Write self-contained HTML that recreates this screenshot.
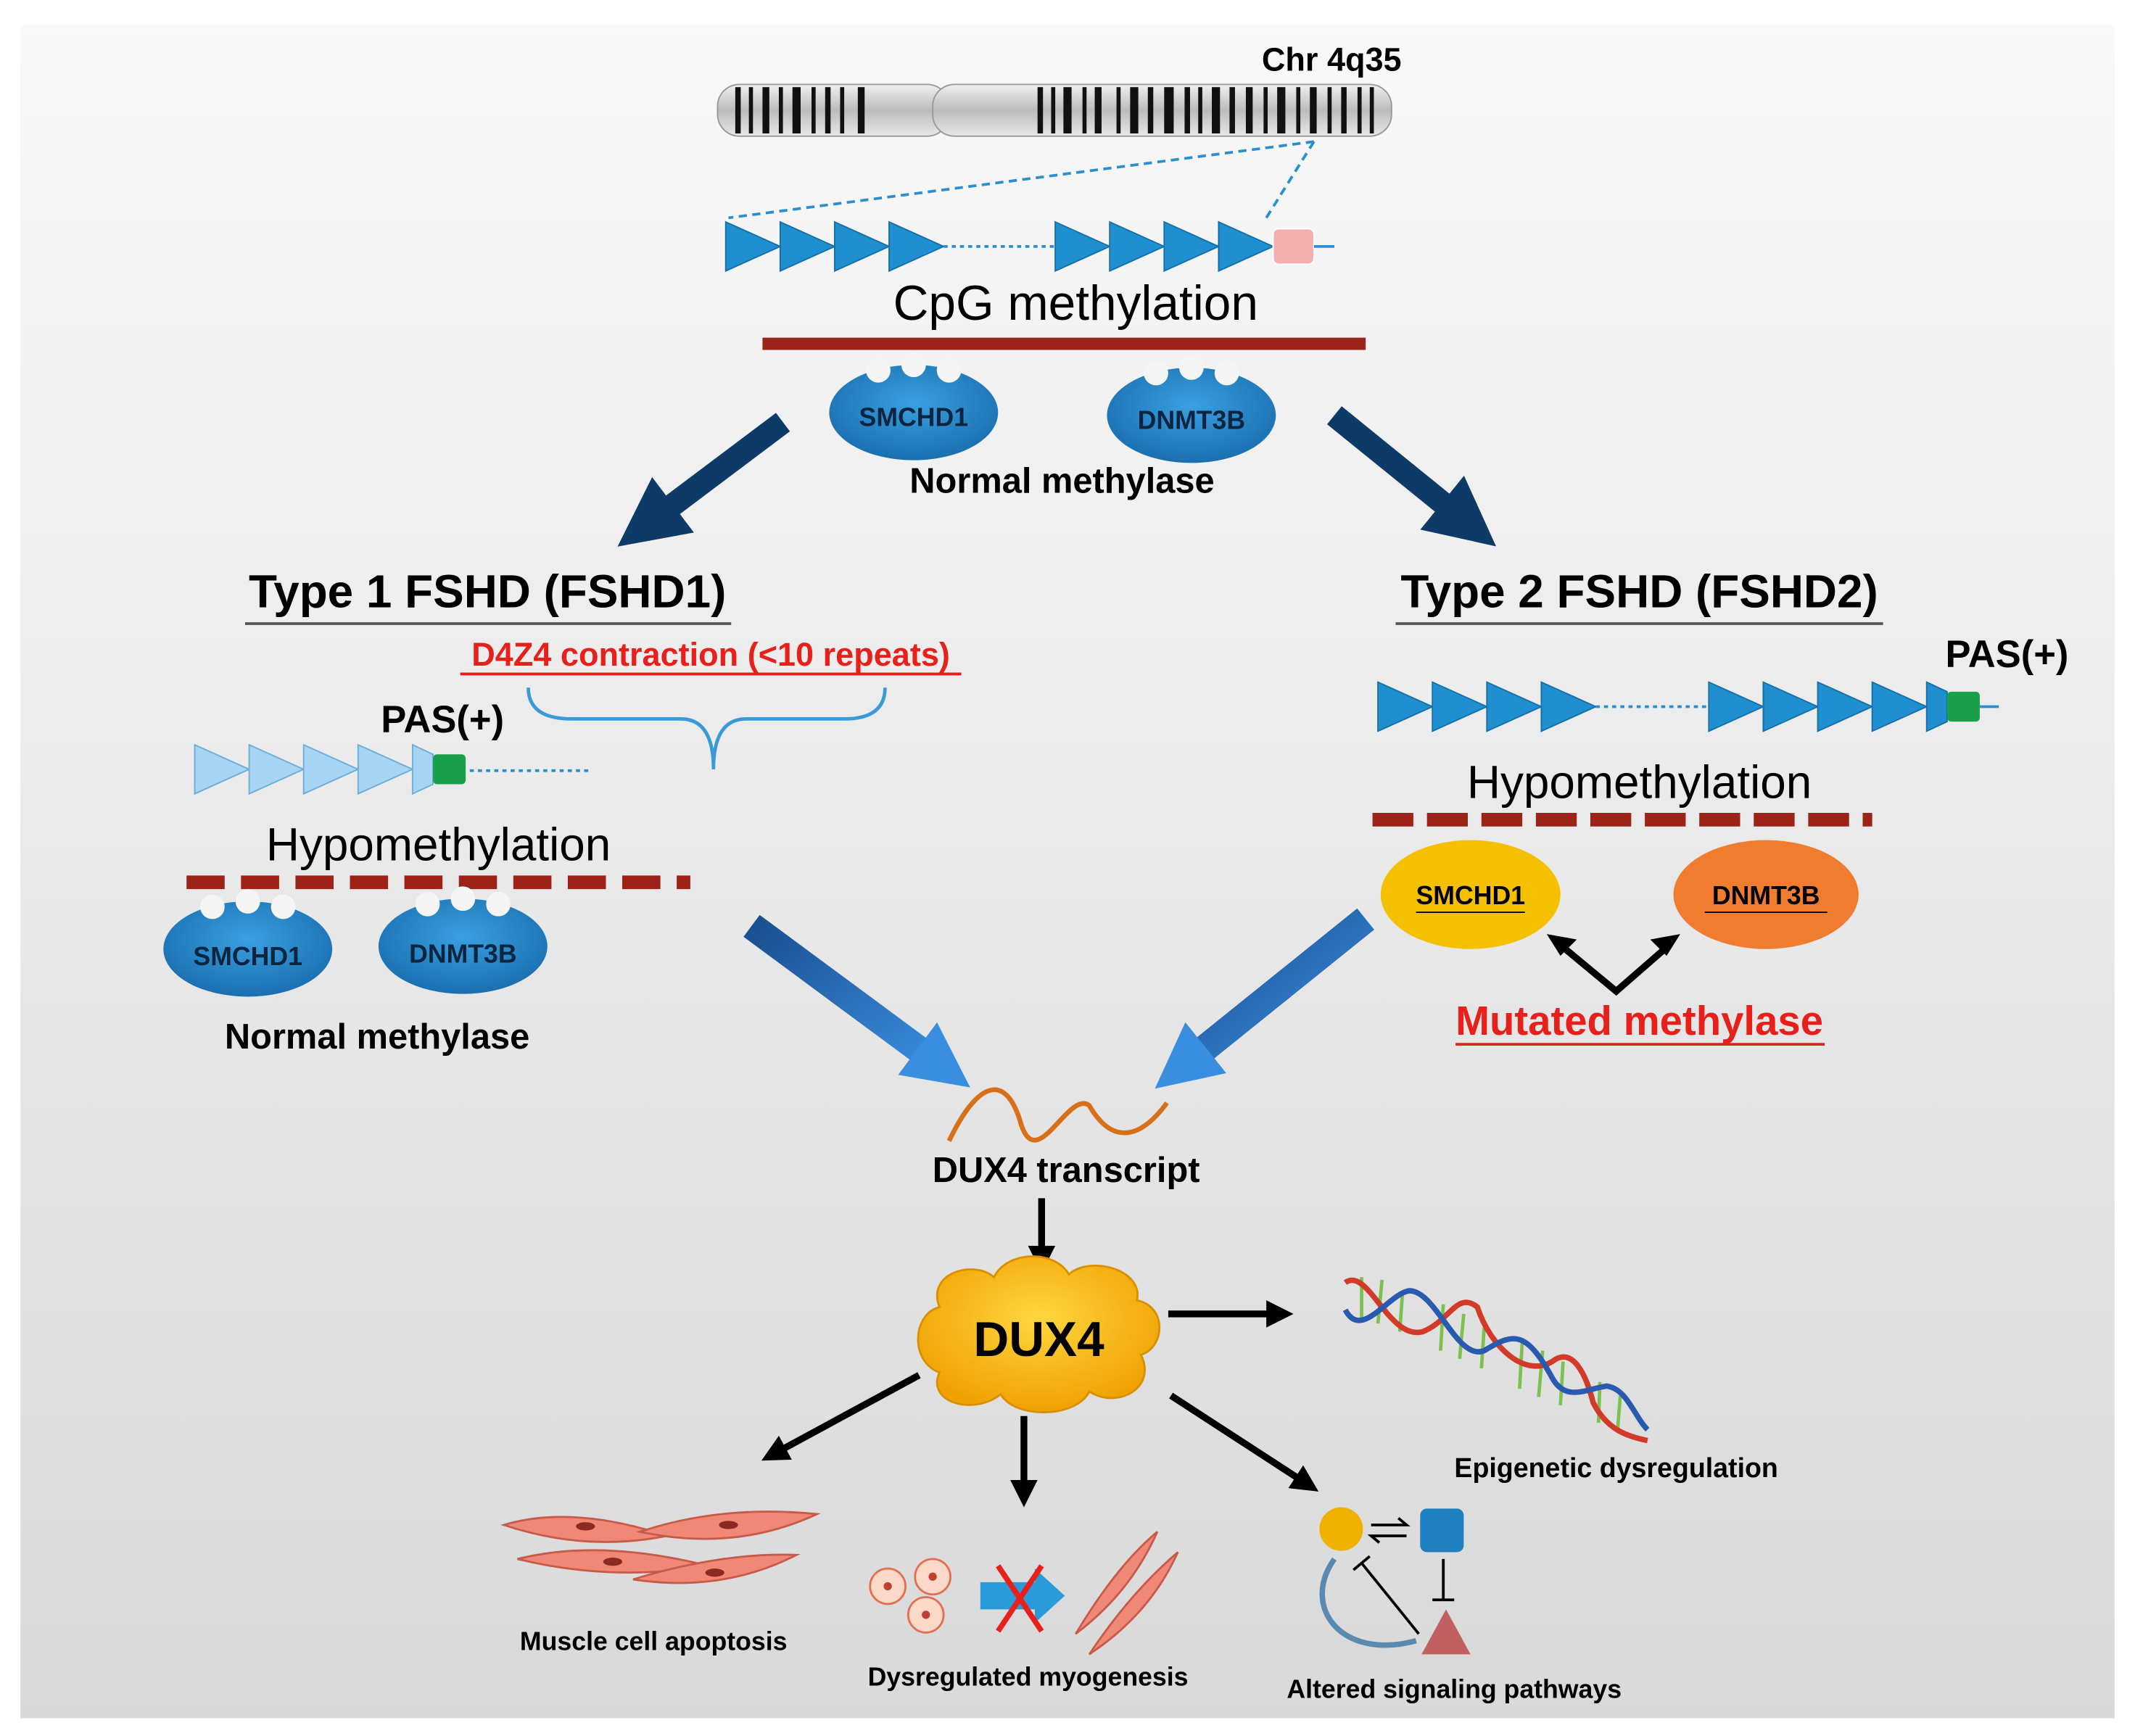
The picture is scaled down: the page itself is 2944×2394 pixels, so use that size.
<!DOCTYPE html>
<html><head><meta charset="utf-8"><style>
html,body{margin:0;padding:0;background:#fff}
svg{display:block}
text{font-family:"Liberation Sans","DejaVu Sans",sans-serif}
</style></head><body>
<svg width="2944" height="2394" viewBox="0 0 1568 1275" preserveAspectRatio="none" xmlns="http://www.w3.org/2000/svg">
<defs>
<linearGradient id="bg" x1="0" y1="0" x2="0" y2="1"><stop offset="0" stop-color="#f9f9f9"/><stop offset="1" stop-color="#d9d9d9"/></linearGradient>
<linearGradient id="chr" x1="0" y1="0" x2="0" y2="1"><stop offset="0" stop-color="#f0f0f0"/><stop offset=".5" stop-color="#bbb"/><stop offset="1" stop-color="#e8e8e8"/></linearGradient>
<radialGradient id="blueE" cx=".5" cy=".4" r=".6"><stop offset="0" stop-color="#3aa0e0"/><stop offset="1" stop-color="#1a6fb0"/></radialGradient>
<radialGradient id="cloud" cx=".5" cy=".4" r=".6"><stop offset="0" stop-color="#ffd640"/><stop offset="1" stop-color="#f0a000"/></radialGradient>
<linearGradient id="barrow" x1="0" y1="0" x2="1" y2="1"><stop offset="0" stop-color="#1a4f90"/><stop offset="1" stop-color="#3a8ee0"/></linearGradient>
<marker id="ah" markerWidth="4" markerHeight="4" refX="2" refY="2" orient="auto" markerUnits="strokeWidth"><path d="M0,0 L4,2 L0,4 z" fill="#000"/></marker>
<marker id="ahn" markerWidth="3" markerHeight="3" refX="1.2" refY="1.5" orient="auto" markerUnits="strokeWidth"><path d="M0,0 L3,1.5 L0,3 z" fill="#0d3a66"/></marker>
<marker id="ahb" markerWidth="2.4" markerHeight="2.4" refX="1" refY="1.2" orient="auto" markerUnits="strokeWidth"><path d="M0,0 L2.4,1.2 L0,2.4 z" fill="#3a8ee0"/></marker>
</defs>
<rect width="1568" height="1275" fill="#fff"/>
<rect x="15" y="18" width="1538" height="1244" fill="url(#bg)"/>

<!-- chromosome -->
<rect x="527" y="62" width="170" height="38" rx="16" fill="url(#chr)" stroke="#999"/>
<rect x="685" y="62" width="337" height="38" rx="16" fill="url(#chr)" stroke="#999"/>
<g fill="#111">
<rect x="540" y="64" width="4" height="34"/><rect x="550" y="64" width="3" height="34"/><rect x="560" y="64" width="5" height="34"/><rect x="572" y="64" width="3" height="34"/><rect x="582" y="64" width="6" height="34"/><rect x="596" y="64" width="3" height="34"/><rect x="606" y="64" width="4" height="34"/><rect x="617" y="64" width="3" height="34"/><rect x="630" y="64" width="5" height="34"/>
<rect x="762" y="64" width="4" height="34"/><rect x="772" y="64" width="3" height="34"/><rect x="781" y="64" width="6" height="34"/><rect x="795" y="64" width="3" height="34"/><rect x="804" y="64" width="5" height="34"/><rect x="820" y="64" width="3" height="34"/><rect x="830" y="64" width="6" height="34"/><rect x="843" y="64" width="4" height="34"/><rect x="855" y="64" width="7" height="34"/><rect x="870" y="64" width="4" height="34"/><rect x="880" y="64" width="3" height="34"/><rect x="890" y="64" width="6" height="34"/><rect x="903" y="64" width="4" height="34"/><rect x="915" y="64" width="5" height="34"/><rect x="928" y="64" width="3" height="34"/><rect x="938" y="64" width="6" height="34"/><rect x="952" y="64" width="3" height="34"/><rect x="962" y="64" width="5" height="34"/><rect x="975" y="64" width="3" height="34"/><rect x="985" y="64" width="4" height="34"/><rect x="997" y="64" width="3" height="34"/><rect x="1006" y="64" width="3" height="34"/>
</g>
<text x="978" y="52" font-size="24" font-weight="bold" text-anchor="middle">Chr 4q35</text>
<g stroke="#2a8fd0" stroke-width="2" stroke-dasharray="6,4" fill="none">
<line x1="965" y1="104" x2="535" y2="160"/><line x1="965" y1="104" x2="930" y2="160"/></g>

<g fill="#1f8fd0" stroke="#156fa8" stroke-width="1">
<polygon points="533,163 573,181 533,199"/><polygon points="573,163 613,181 573,199"/><polygon points="613,163 653,181 613,199"/><polygon points="653,163 693,181 653,199"/>
<polygon points="775,163 815,181 775,199"/><polygon points="815,163 855,181 815,199"/><polygon points="855,163 895,181 855,199"/><polygon points="895,163 935,181 895,199"/>
</g>
<line x1="693" y1="181" x2="775" y2="181" stroke="#2a8fd0" stroke-width="2" stroke-dasharray="3,3"/>
<rect x="935" y="168" width="30" height="26" rx="4" fill="#f4b0b0" stroke="#fff"/>
<line x1="965" y1="181" x2="980" y2="181" stroke="#2a8fd0" stroke-width="2"/>
<text x="790" y="235" font-size="36" text-anchor="middle">CpG methylation</text>
<rect x="560" y="248" width="443" height="9" fill="#9b2318"/>

<ellipse cx="671" cy="303" rx="62" ry="35" fill="url(#blueE)"/>
<circle cx="645" cy="272" r="9" fill="#f5f5f5"/><circle cx="671" cy="268" r="9" fill="#f5f5f5"/><circle cx="697" cy="272" r="9" fill="#f5f5f5"/>
<text x="671" y="313" font-size="19" font-weight="bold" text-anchor="middle" fill="#0a2540">SMCHD1</text>
<ellipse cx="875" cy="305" rx="62" ry="35" fill="url(#blueE)"/>
<circle cx="849" cy="274" r="9" fill="#f5f5f5"/><circle cx="875" cy="270" r="9" fill="#f5f5f5"/><circle cx="901" cy="274" r="9" fill="#f5f5f5"/>
<text x="875" y="315" font-size="19" font-weight="bold" text-anchor="middle" fill="#0a2540">DNMT3B</text>
<text x="780" y="362" font-size="26" font-weight="bold" text-anchor="middle">Normal methylase</text>

<line x1="575" y1="310" x2="478" y2="383" stroke="#0d3a66" stroke-width="17" marker-end="url(#ahn)"/>
<line x1="980" y1="305" x2="1075" y2="382" stroke="#0d3a66" stroke-width="17" marker-end="url(#ahn)"/>

<text x="358" y="446" font-size="34" font-weight="bold" text-anchor="middle">Type 1 FSHD (FSHD1)</text>
<line x1="180" y1="458" x2="537" y2="458" stroke="#555" stroke-width="2"/>
<text x="1204" y="446" font-size="34" font-weight="bold" text-anchor="middle">Type 2 FSHD (FSHD2)</text>
<line x1="1025" y1="458" x2="1383" y2="458" stroke="#555" stroke-width="2"/>

<text x="522" y="489" font-size="24" font-weight="bold" text-anchor="middle" fill="#e8201c">D4Z4 contraction (&lt;10 repeats)</text>
<line x1="338" y1="495" x2="706" y2="495" stroke="#e8201c" stroke-width="2"/>
<path d="M388,505 Q388,528 420,528 L500,528 Q524,528 524,565 Q524,528 548,528 L620,528 Q650,528 650,505" fill="none" stroke="#3a9ad8" stroke-width="2.5"/>

<text x="325" y="538" font-size="28" font-weight="bold" text-anchor="middle">PAS(+)</text>
<g fill="#a8d4f4" stroke="#6aaedc" stroke-width="1">
<polygon points="143,547 183,565 143,583"/><polygon points="183,547 223,565 183,583"/><polygon points="223,547 263,565 223,583"/><polygon points="263,547 303,565 263,583"/><polygon points="303,547 318,554 318,576 303,583"/></g>
<rect x="318" y="554" width="24" height="22" rx="3" fill="#1aa04a"/>
<line x1="345" y1="566" x2="432" y2="566" stroke="#2a8fd0" stroke-width="2" stroke-dasharray="3,3"/>
<text x="322" y="632" font-size="34" text-anchor="middle">Hypomethylation</text>
<line x1="137" y1="648" x2="507" y2="648" stroke="#9b2318" stroke-width="10" stroke-dasharray="28,12"/>
<ellipse cx="182" cy="697" rx="62" ry="35" fill="url(#blueE)"/>
<circle cx="156" cy="666" r="9" fill="#f5f5f5"/><circle cx="182" cy="662" r="9" fill="#f5f5f5"/><circle cx="208" cy="666" r="9" fill="#f5f5f5"/>
<text x="182" y="709" font-size="19" font-weight="bold" text-anchor="middle" fill="#0a2540">SMCHD1</text>
<ellipse cx="340" cy="695" rx="62" ry="35" fill="url(#blueE)"/>
<circle cx="314" cy="664" r="9" fill="#f5f5f5"/><circle cx="340" cy="660" r="9" fill="#f5f5f5"/><circle cx="366" cy="664" r="9" fill="#f5f5f5"/>
<text x="340" y="707" font-size="19" font-weight="bold" text-anchor="middle" fill="#0a2540">DNMT3B</text>
<text x="277" y="770" font-size="26" font-weight="bold" text-anchor="middle">Normal methylase</text>

<text x="1474" y="490" font-size="28" font-weight="bold" text-anchor="middle">PAS(+)</text>
<g fill="#1f8fd0" stroke="#156fa8" stroke-width="1">
<polygon points="1012,501 1052,519 1012,537"/><polygon points="1052,501 1092,519 1052,537"/><polygon points="1092,501 1132,519 1092,537"/><polygon points="1132,501 1172,519 1132,537"/>
<polygon points="1255,501 1295,519 1255,537"/><polygon points="1295,501 1335,519 1295,537"/><polygon points="1335,501 1375,519 1335,537"/><polygon points="1375,501 1415,519 1375,537"/><polygon points="1415,501 1430,508 1430,530 1415,537"/></g>
<line x1="1172" y1="519" x2="1255" y2="519" stroke="#2a8fd0" stroke-width="2" stroke-dasharray="3,3"/>
<rect x="1430" y="508" width="24" height="22" rx="3" fill="#1aa04a"/>
<line x1="1454" y1="519" x2="1468" y2="519" stroke="#2a8fd0" stroke-width="2"/>
<text x="1204" y="586" font-size="34" text-anchor="middle">Hypomethylation</text>
<line x1="1008" y1="602" x2="1375" y2="602" stroke="#9b2318" stroke-width="10" stroke-dasharray="30,10"/>
<ellipse cx="1080" cy="657" rx="66" ry="40" fill="#f5c000"/>
<text x="1080" y="664" font-size="19" font-weight="bold" text-anchor="middle">SMCHD1</text>
<line x1="1040" y1="670" x2="1120" y2="670" stroke="#000"/>
<ellipse cx="1297" cy="657" rx="68" ry="40" fill="#f07c30"/>
<text x="1297" y="664" font-size="19" font-weight="bold" text-anchor="middle">DNMT3B</text>
<line x1="1252" y1="670" x2="1342" y2="670" stroke="#000"/>
<polyline points="1146,694 1187,728 1226,694" fill="none" stroke="#000" stroke-width="5"/>
<polygon points="1136,686 1158,690 1146,702" fill="#000"/><polygon points="1234,686 1212,690 1224,702" fill="#000"/>
<text x="1204" y="760" font-size="30" font-weight="bold" text-anchor="middle" fill="#e8201c">Mutated methylase</text>
<line x1="1069" y1="767" x2="1340" y2="767" stroke="#e8201c" stroke-width="2"/>

<line x1="552" y1="680" x2="690" y2="782" stroke="url(#barrow)" stroke-width="20" marker-end="url(#ahb)"/>
<line x1="1003" y1="675" x2="870" y2="782" stroke="url(#barrow)" stroke-width="20" marker-end="url(#ahb)"/>

<path d="M697,838 C720,790 740,790 750,826 C762,862 785,800 800,812 C815,838 835,840 857,810" fill="none" stroke="#d8701a" stroke-width="3.5"/>
<text x="783" y="868" font-size="26" font-weight="bold" text-anchor="middle">DUX4 transcript</text>
<line x1="765" y1="880" x2="765" y2="925" stroke="#000" stroke-width="5" marker-end="url(#ah)"/>

<path d="M690,960 C680,935 715,925 730,938 C740,918 775,918 785,936 C800,922 840,932 835,955 C858,960 855,990 838,995 C850,1020 820,1035 800,1022 C790,1042 745,1042 735,1024 C715,1040 680,1030 690,1008 C668,1000 670,965 690,960 Z" fill="url(#cloud)" stroke="#d89000" stroke-width="1.5"/>
<text x="763" y="996" font-size="36" font-weight="bold" text-anchor="middle">DUX4</text>

<line x1="858" y1="965" x2="940" y2="965" stroke="#000" stroke-width="5" marker-end="url(#ah)"/>
<line x1="675" y1="1010" x2="568" y2="1068" stroke="#000" stroke-width="5" marker-end="url(#ah)"/>
<line x1="752" y1="1040" x2="752" y2="1097" stroke="#000" stroke-width="5" marker-end="url(#ah)"/>
<line x1="860" y1="1025" x2="960" y2="1090" stroke="#000" stroke-width="5" marker-end="url(#ah)"/>

<g stroke="#7cc050" stroke-width="2.5">
<line x1="1000" y1="938" x2="1000" y2="968"/><line x1="1015" y1="940" x2="1012" y2="972"/><line x1="1030" y1="950" x2="1028" y2="978"/><line x1="1060" y1="958" x2="1058" y2="992"/><line x1="1075" y1="965" x2="1072" y2="998"/><line x1="1090" y1="975" x2="1088" y2="1005"/><line x1="1118" y1="985" x2="1116" y2="1020"/><line x1="1133" y1="992" x2="1130" y2="1026"/><line x1="1148" y1="1000" x2="1146" y2="1032"/><line x1="1175" y1="1015" x2="1174" y2="1045"/><line x1="1190" y1="1025" x2="1188" y2="1050"/></g>
<g fill="none" stroke-width="4">
<path d="M988,942 C1005,930 1020,985 1045,978 C1065,970 1070,948 1085,960 C1095,990 1120,1012 1140,1000 C1155,988 1165,1010 1170,1030 C1180,1050 1195,1055 1210,1058" stroke="#d23a2a"/>
<path d="M988,962 C1000,985 1020,950 1035,948 C1055,948 1070,1000 1090,992 C1110,980 1120,975 1140,1012 C1150,1030 1165,1020 1180,1018 C1195,1020 1200,1040 1210,1050" stroke="#2a5ab0"/>
</g>
<text x="1187" y="1085" font-size="20" font-weight="bold" text-anchor="middle">Epigenetic dysregulation</text>

<g fill="#f08878" stroke="#c85a4a" stroke-width="1.5">
<path d="M370,1120 Q420,1105 490,1128 Q430,1140 370,1120Z"/>
<path d="M470,1125 Q530,1105 600,1112 Q540,1140 470,1125Z"/>
<path d="M380,1145 Q440,1130 520,1150 Q450,1162 380,1145Z"/>
<path d="M465,1160 Q530,1140 585,1142 Q530,1170 465,1160Z"/></g>
<g fill="#8a2a20"><ellipse cx="430" cy="1121" rx="7" ry="3"/><ellipse cx="535" cy="1120" rx="7" ry="3"/><ellipse cx="450" cy="1147" rx="7" ry="3"/><ellipse cx="525" cy="1155" rx="7" ry="3"/></g>
<text x="480" y="1212" font-size="19" font-weight="bold" text-anchor="middle">Muscle cell apoptosis</text>

<g fill="#fbd8c8" stroke="#e07050" stroke-width="1.5">
<circle cx="652" cy="1165" r="13"/><circle cx="685" cy="1158" r="13"/><circle cx="680" cy="1186" r="13"/></g>
<g fill="#c04030"><circle cx="652" cy="1165" r="3"/><circle cx="685" cy="1158" r="3"/><circle cx="680" cy="1186" r="3"/></g>
<polygon points="720,1162 760,1162 760,1152 782,1172 760,1192 760,1182 720,1182" fill="#2a9ad8"/>
<g stroke="#e8201c" stroke-width="4"><line x1="733" y1="1150" x2="765" y2="1198"/><line x1="765" y1="1150" x2="733" y2="1198"/></g>
<g fill="#f08878" stroke="#c85a4a" stroke-width="1.5">
<path d="M790,1200 Q820,1150 850,1125 Q830,1170 790,1200Z"/>
<path d="M800,1215 Q830,1170 865,1140 Q845,1185 800,1215Z"/></g>
<text x="755" y="1238" font-size="19" font-weight="bold" text-anchor="middle">Dysregulated myogenesis</text>

<circle cx="985" cy="1123" r="16" fill="#f0b000"/>
<rect x="1043" y="1108" width="32" height="32" rx="5" fill="#1f80c0"/>
<polygon points="1062,1182 1080,1215 1044,1215" fill="#c06060"/>
<g stroke="#000" stroke-width="2" fill="none"><polyline points="1007,1120 1033,1120 1027,1115"/><polyline points="1033,1128 1007,1128 1013,1133"/><line x1="1060" y1="1145" x2="1060" y2="1175"/><line x1="1052" y1="1175" x2="1068" y2="1175"/><line x1="1042" y1="1200" x2="1000" y2="1148"/><line x1="994" y1="1153" x2="1006" y2="1143"/></g>
<path d="M980,1145 C955,1180 985,1220 1040,1205" fill="none" stroke="#5a8ab0" stroke-width="4"/>
<text x="1068" y="1247" font-size="19" font-weight="bold" text-anchor="middle">Altered signaling pathways</text>
</svg>
</body></html>
